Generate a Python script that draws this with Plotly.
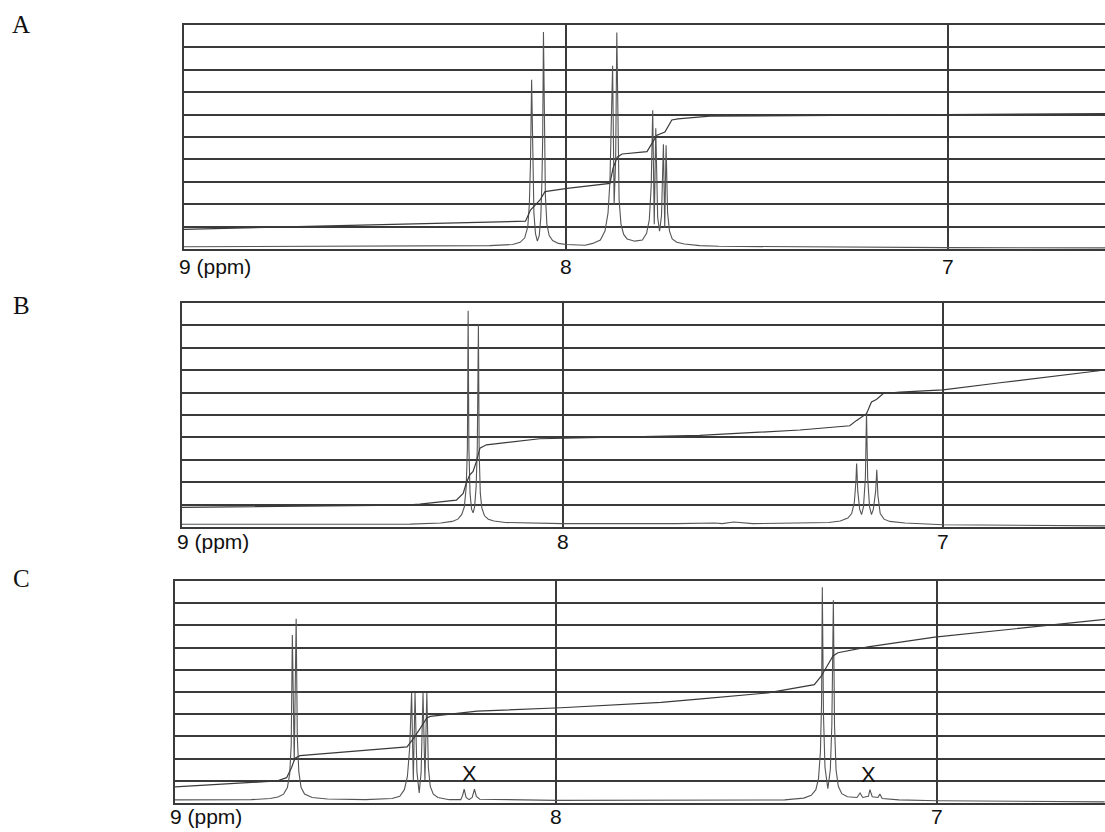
import plotly.graph_objects as go

# ---------------- data (ppm, intensity in grid units 0-10) ----------------
panel_labels = ["A", "B", "C"]
tick_vals = [9, 8, 7]
tick_text = ["9 (ppm)", "8", "7"]

# Panel A spectrum trace
a_spec_ppm = [9.0, 8.5, 8.2, 8.14, 8.12, 8.108, 8.100, 8.096, 8.093, 8.090, 8.087, 8.084,
              8.080, 8.075, 8.070, 8.066, 8.063, 8.061, 8.059, 8.057, 8.054, 8.050, 8.044,
              8.035, 8.02, 8.0, 7.95, 7.93, 7.91, 7.898, 7.890, 7.885, 7.881, 7.878, 7.874,
              7.870, 7.867, 7.864, 7.861, 7.856, 7.849, 7.84, 7.82, 7.80, 7.789, 7.782,
              7.777, 7.773, 7.769, 7.765, 7.760, 7.755, 7.750, 7.745, 7.7415, 7.738, 7.734,
              7.729, 7.722, 7.71, 7.69, 7.65, 7.6, 7.0, 6.58]
a_spec_int = [0.10, 0.12, 0.15, 0.2, 0.3, 0.5, 1.0, 2.0, 3.8, 7.56, 3.6, 1.6,
              0.7, 0.35, 0.6, 1.4, 3.0, 5.0, 9.69, 5.0, 2.4, 1.1, 0.6,
              0.38, 0.25, 0.2, 0.17, 0.25, 0.4, 0.8, 1.6, 3.0, 5.5, 8.18, 2.0,
              4.0, 9.67, 4.2, 2.2, 1.1, 0.65, 0.45, 0.35, 0.4, 0.7, 1.3,
              2.8, 6.19, 1.1, 5.39, 1.4, 0.8, 1.5, 4.68, 0.95, 4.63, 1.6,
              0.8, 0.45, 0.3, 0.22, 0.15, 0.12, 0.06, 0.05]
# Panel A integral trace
a_intg_ppm = [9.0, 8.12, 8.106, 8.093, 8.080, 8.068, 8.055, 7.997, 7.885, 7.877, 7.866,
              7.853, 7.788, 7.775, 7.762, 7.741, 7.723, 7.707, 7.623, 6.58]
a_intg_val = [0.88, 1.23, 1.24, 1.74, 1.96, 2.19, 2.56, 2.71, 2.93, 3.6, 4.1,
              4.24, 4.35, 4.71, 5.08, 5.22, 5.76, 5.81, 5.93, 6.05]

# Panel B spectrum trace
b_spec_ppm = [9.0, 8.6, 8.4, 8.32, 8.29, 8.275, 8.265, 8.258, 8.253, 8.250, 8.248, 8.246,
              8.243, 8.239, 8.235, 8.231, 8.227, 8.224, 8.221, 8.219, 8.216, 8.212, 8.205,
              8.195, 8.18, 8.15, 8.0, 7.7, 7.6, 7.58, 7.55, 7.5, 7.3, 7.27, 7.25, 7.24,
              7.233, 7.229, 7.227, 7.224, 7.219, 7.214, 7.209, 7.204, 7.201, 7.198, 7.193,
              7.188, 7.183, 7.177, 7.174, 7.171, 7.165, 7.155, 7.14, 7.1, 7.0, 6.57]
b_spec_int = [0.12, 0.12, 0.13, 0.18, 0.25, 0.35, 0.55, 0.9, 1.8, 3.5, 9.65, 3.5,
              1.5, 0.8, 0.63, 0.9, 1.8, 3.5, 9.04, 3.3, 1.5, 0.85, 0.5,
              0.35, 0.27, 0.2, 0.15, 0.15, 0.18, 0.15, 0.22, 0.15, 0.2, 0.27, 0.4, 0.6,
              1.1, 2.0, 2.83, 1.6, 0.8, 0.55, 0.9, 2.2, 5.1, 2.2, 0.9,
              0.55, 0.8, 1.6, 2.55, 1.4, 0.6, 0.35, 0.25, 0.18, 0.1, 0.05]
# Panel B integral trace
b_intg_ppm = [9.0, 8.42, 8.375, 8.279, 8.261, 8.253, 8.244, 8.235, 8.226, 8.217, 8.200,
              8.060, 7.639, 7.376, 7.245, 7.227, 7.201, 7.188, 7.175, 7.157, 7.113, 7.0,
              6.850, 6.718, 6.574]
b_intg_val = [0.88, 0.97, 1.02, 1.2, 1.5, 1.95, 2.32, 2.48, 2.94, 3.52, 3.67,
              3.94, 4.09, 4.33, 4.52, 4.76, 5.06, 5.58, 5.69, 5.96, 6.02, 6.12,
              6.44, 6.71, 7.01]

# Panel C spectrum trace
c_spec_ppm = [9.0, 8.8, 8.75, 8.73, 8.715, 8.705, 8.699, 8.695, 8.692, 8.687, 8.682, 8.679,
              8.675, 8.669, 8.66, 8.64, 8.6, 8.5, 8.43, 8.41, 8.398, 8.390, 8.384, 8.379,
              8.3745, 8.370, 8.365, 8.359, 8.354, 8.349, 8.344, 8.339, 8.335, 8.330, 8.322,
              8.31, 8.28, 8.25, 8.245, 8.241, 8.236, 8.228, 8.220, 8.214, 8.209, 8.20, 8.0,
              7.5, 7.4, 7.35, 7.33, 7.318, 7.311, 7.306, 7.303, 7.301, 7.298, 7.294, 7.2865,
              7.280, 7.276, 7.272, 7.269, 7.265, 7.259, 7.25, 7.235, 7.21, 7.202, 7.195,
              7.18, 7.176, 7.17, 7.155, 7.150, 7.144, 7.1, 7.0, 6.56]
c_spec_int = [0.14, 0.15, 0.2, 0.27, 0.4, 0.7, 1.3, 2.6, 7.57, 1.9, 8.30, 3.0,
              1.4, 0.7, 0.4, 0.25, 0.18, 0.15, 0.2, 0.3, 0.6, 1.2, 2.5, 4.95,
              1.03, 4.95, 1.4, 0.45, 1.4, 4.95, 1.03, 4.95, 1.6, 0.75, 0.4,
              0.25, 0.15, 0.15, 0.35, 0.62, 0.25, 0.15, 0.25, 0.62, 0.3, 0.17, 0.12,
              0.12, 0.14, 0.22, 0.35, 0.6, 1.1, 2.3, 4.5, 9.72, 4.0, 1.6, 0.65,
              1.5, 3.5, 9.13, 3.5, 1.5, 0.75, 0.42, 0.28, 0.25, 0.45, 0.25,
              0.3, 0.6, 0.28, 0.25, 0.4, 0.2, 0.14, 0.1, 0.05]
# Panel C integral trace
c_intg_ppm = [9.0, 8.733, 8.707, 8.694, 8.685, 8.672, 8.391, 8.374, 8.356, 8.339, 8.330,
              8.207, 7.987, 7.724, 7.619, 7.444, 7.322, 7.304, 7.291, 7.273, 7.260, 7.181,
              7.006, 6.559]
c_intg_val = [0.73, 0.99, 1.14, 1.6, 2.02, 2.13, 2.53, 2.91, 3.37, 3.83, 3.9,
              4.14, 4.29, 4.53, 4.69, 4.96, 5.33, 5.71, 6.09, 6.62, 6.77, 7.03,
              7.47, 8.27]

# impurity marks in panel C
c_mark_ppm = [8.226, 7.181]
c_mark_y = [1.35, 1.3]

# ---------------- layout geometry ----------------
W, H = 1105, 832
panels = [
    dict(spec=(a_spec_ppm, a_spec_int), intg=(a_intg_ppm, a_intg_val),
         left=184, ppm_px=382.0, top=25, bottom=249, label_y=25, tick_shift=-17),
    dict(spec=(b_spec_ppm, b_spec_int), intg=(b_intg_ppm, b_intg_val),
         left=182, ppm_px=380.5, top=303, bottom=527, label_y=305, tick_shift=-14),
    dict(spec=(c_spec_ppm, c_spec_int), intg=(c_intg_ppm, c_intg_val),
         left=175, ppm_px=381.0, top=581, bottom=803, label_y=578, tick_shift=-13),
]

fig = go.Figure()
annotations = []
grid_col = "#3a3a3a"
line_col = "#555555"

for i, p in enumerate(panels):
    n = "" if i == 0 else str(i + 1)
    xa, ya = "x" + n, "y" + n
    fig.add_trace(go.Scatter(x=p["spec"][0], y=p["spec"][1], mode="lines",
                             line=dict(color=line_col, width=1.1),
                             xaxis=xa, yaxis=ya, showlegend=False, hoverinfo="skip"))
    fig.add_trace(go.Scatter(x=p["intg"][0], y=p["intg"][1], mode="lines",
                             line=dict(color="#3a3a3a", width=1.2),
                             xaxis=xa, yaxis=ya, showlegend=False, hoverinfo="skip"))
    x_right = 9 - (W - p["left"]) / p["ppm_px"]
    fig.layout["xaxis" + n] = dict(
        domain=[p["left"] / W, 1.0], range=[9, x_right], anchor=ya,
        tickvals=tick_vals, showticklabels=False, ticks="",
        showgrid=True, gridcolor=grid_col, gridwidth=2,
        showline=True, linecolor=grid_col, linewidth=2, mirror=True,
        zeroline=False, fixedrange=True)
    fig.layout["yaxis" + n] = dict(
        domain=[1 - p["bottom"] / H, 1 - p["top"] / H], range=[0, 10], anchor=xa,
        dtick=1, showticklabels=False, ticks="",
        showgrid=True, gridcolor=grid_col, gridwidth=2,
        showline=True, linecolor=grid_col, linewidth=2,
        zeroline=False, fixedrange=True)
    # panel letter
    annotations.append(dict(text=panel_labels[i], x=21 / W, y=1 - p["label_y"] / H,
                            xref="paper", yref="paper", xanchor="center", yanchor="middle",
                            showarrow=False,
                            font=dict(family="Liberation Serif, Times New Roman, serif",
                                      size=25, color="#111")))
    # tick labels
    for v, t in zip(tick_vals, tick_text):
        first = (v == tick_vals[0])
        annotations.append(dict(text=t, x=v, y=0, xref=xa, yref=ya + " domain",
                                xanchor="left" if first else "center", yanchor="middle",
                                xshift=-7 if first else 0, yshift=p["tick_shift"],
                                showarrow=False,
                                font=dict(family="Liberation Sans, Arial, sans-serif",
                                          size=21, color="#111")))

for xm, ym in zip(c_mark_ppm, c_mark_y):
    annotations.append(dict(text="X", x=xm, y=ym, xref="x3", yref="y3", showarrow=False,
                            font=dict(family="Liberation Sans, Arial, sans-serif",
                                      size=22, color="#111")))

fig.update_layout(width=W, height=H, margin=dict(l=0, r=0, t=0, b=0),
                  paper_bgcolor="white", plot_bgcolor="white",
                  annotations=annotations, showlegend=False)

fig.write_html("out.html", config={"displayModeBar": False, "staticPlot": True},
               post_script="document.body.style.margin='0';"
                           "document.body.style.overflow='hidden';")
